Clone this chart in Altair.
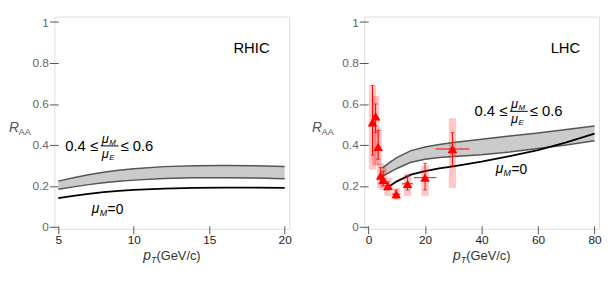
import altair as alt
import pandas as pd

FONT = "Liberation Sans"

# ---------------- data ----------------
rhic_pt = [5, 6, 7, 8, 9, 10, 12, 14, 16, 18, 20]
rhic_band_hi = [0.223, 0.240, 0.254, 0.266, 0.276, 0.284, 0.294, 0.298, 0.299, 0.298, 0.295]
rhic_band_lo = [0.183, 0.195, 0.206, 0.215, 0.222, 0.228, 0.236, 0.240, 0.240, 0.238, 0.235]
rhic_mu0 = [0.140, 0.151, 0.161, 0.169, 0.175, 0.180, 0.186, 0.190, 0.191, 0.191, 0.190]

lhc_pt = [5, 7, 10, 15, 20, 25, 30, 40, 50, 60, 70, 80]
lhc_band_hi = [0.288, 0.310, 0.338, 0.372, 0.390, 0.402, 0.412, 0.428, 0.443, 0.458, 0.475, 0.492]
lhc_band_lo = [0.248, 0.262, 0.285, 0.315, 0.330, 0.338, 0.343, 0.352, 0.365, 0.382, 0.400, 0.420]
lhc_mu0_pt = [5.5, 7, 10, 15, 20, 25, 30, 40, 50, 60, 70, 80]
lhc_mu0 = [0.180, 0.195, 0.222, 0.255, 0.272, 0.285, 0.295, 0.318, 0.345, 0.375, 0.412, 0.455]

data_pt = [1.4, 2.5, 3.4, 4.3, 5.2, 6.9, 9.8, 13.8, 20.0, 29.7]
data_raa = [0.51, 0.54, 0.39, 0.25, 0.23, 0.20, 0.16, 0.21, 0.24, 0.38]
data_stat_lo = [0.35, 0.46, 0.33, 0.21, 0.20, 0.18, 0.14, 0.18, 0.18, 0.30]
data_stat_hi = [0.69, 0.60, 0.47, 0.29, 0.27, 0.22, 0.18, 0.25, 0.31, 0.46]
data_sys_lo = [0.28, 0.30, 0.30, 0.19, 0.18, 0.15, 0.13, 0.15, 0.15, 0.19]
data_sys_hi = [0.69, 0.64, 0.48, 0.31, 0.29, 0.24, 0.19, 0.26, 0.30, 0.53]
data_pt_err = [0.5, 0.5, 0.5, 0.5, 0.5, 1.0, 1.5, 2.0, 4.0, 6.0]
data_box_hw = [1.3] * 10

y_ticks = [0, 0.2, 0.4, 0.6, 0.8, 1]
rhic_x_ticks = [5, 10, 15, 20]
lhc_x_ticks = [0, 20, 40, 60, 80]

W, H = 238, 215
Y_DOM = [-0.0096, 1.0265]

RED = "#ff0000"
BAND_FILL = "#cbcbcb"
BAND_EDGE = "#555555"


def make_panel(xdom, xticks, bx, bhi, blo, mx, my, name, name_xy, frac_xy, mu_xy, with_data):
    xsc = alt.Scale(domain=xdom, nice=False, zero=False)
    ysc = alt.Scale(domain=Y_DOM, nice=False, zero=False)
    xax = alt.Axis(values=xticks, title=None, domain=False, grid=False, offset=-3,
                   tickSize=8, tickColor="#555", labelColor="#222", labelFontSize=12,
                   labelFont=FONT, labelPadding=1, format="d")
    yax = alt.Axis(values=y_ticks, title=None, domain=False, grid=False, offset=-4,
                   tickSize=9, tickColor="#555", labelColor="#666", labelFontSize=12,
                   labelFont=FONT, labelPadding=1, format=".1~f")
    kx = W / (xdom[1] - xdom[0])

    def X(f):
        return alt.X(f, scale=xsc, axis=xax)

    def Y(f):
        return alt.Y(f, scale=ysc, axis=yax)

    def tx(x, y, text, size, dx=0, dy=0, italic=False, align="left", baseline="alphabetic"):
        return alt.Chart(pd.DataFrame({"x": [x], "y": [y]})).mark_text(
            text=text, fontSize=size, font=FONT, fontStyle="italic" if italic else "normal",
            align=align, baseline=baseline, dx=dx, dy=dy, color="black"
        ).encode(x=X("x:Q"), y=Y("y:Q"))

    def ptx(px, py, text, size, italic=False, color="#333"):
        return alt.Chart(pd.DataFrame({"a": [0]})).mark_text(
            text=text, fontSize=size, font=FONT, fontStyle="italic" if italic else "normal",
            align="left", baseline="alphabetic", color=color
        ).encode(x=alt.value(px), y=alt.value(py))

    band = pd.DataFrame({"x": bx, "hi": bhi, "lo": blo})
    mu0 = pd.DataFrame({"x": mx, "y": my})

    layers = [
        alt.Chart(band).mark_area(color=BAND_FILL, opacity=1).encode(x=X("x:Q"), y=Y("hi:Q"), y2="lo:Q"),
        alt.Chart(band).mark_line(color=BAND_EDGE, strokeWidth=1.5).encode(x=X("x:Q"), y=Y("hi:Q")),
        alt.Chart(band).mark_line(color=BAND_EDGE, strokeWidth=1.5).encode(x=X("x:Q"), y=Y("lo:Q")),
        alt.Chart(mu0).mark_line(color="black", strokeWidth=1.8).encode(x=X("x:Q"), y=Y("y:Q")),
    ]

    if with_data:
        d = pd.DataFrame({
            "x": data_pt, "y": data_raa,
            "slo": data_stat_lo, "shi": data_stat_hi,
            "ylo": data_sys_lo, "yhi": data_sys_hi,
            "xlo": [a - b for a, b in zip(data_pt, data_pt_err)],
            "xhi": [a + b for a, b in zip(data_pt, data_pt_err)],
            "blo": [a - b for a, b in zip(data_pt, data_box_hw)],
            "bhi": [a + b for a, b in zip(data_pt, data_box_hw)],
        })
        layers += [
            alt.Chart(d).mark_rect(color=RED, opacity=0.22).encode(x=X("blo:Q"), x2="bhi:Q", y=Y("ylo:Q"), y2="yhi:Q"),
            alt.Chart(d).mark_rule(color=RED, strokeWidth=1).encode(x=X("x:Q"), y=Y("slo:Q"), y2="shi:Q"),
            alt.Chart(d).mark_rule(color=RED, strokeWidth=1).encode(x=X("xlo:Q"), x2="xhi:Q", y=Y("y:Q")),
            alt.Chart(d).mark_tick(color=RED, orient="horizontal", size=4, thickness=1).encode(x=X("x:Q"), y=Y("slo:Q")),
            alt.Chart(d).mark_tick(color=RED, orient="horizontal", size=4, thickness=1).encode(x=X("x:Q"), y=Y("shi:Q")),
            alt.Chart(d).mark_point(shape="triangle-up", filled=True, size=95, color=RED, opacity=1).encode(x=X("x:Q"), y=Y("y:Q")),
        ]

    # experiment label
    layers.append(tx(name_xy[0], name_xy[1], name, 15, align="center", baseline="middle"))
    # fraction label
    fx, fy = frac_xy
    layers += [
        tx(fx, fy, "0.4 \u2264", 15, baseline="middle"),
        tx(fx, fy, "\u03bc", 13, dx=37, dy=-3, italic=True),
        tx(fx, fy, "M", 8, dx=44.5, dy=-1, italic=True),
        tx(fx, fy, "\u03bc", 13, dx=37, dy=12, italic=True),
        tx(fx, fy, "E", 8, dx=44.5, dy=14, italic=True),
        tx(fx, fy, "\u2264 0.6", 15, dx=56, baseline="middle"),
        alt.Chart(pd.DataFrame({"x": [fx + 36 / kx], "x2": [fx + 54 / kx], "y": [fy]}))
        .mark_rule(color="black", strokeWidth=1).encode(x=X("x:Q"), x2="x2:Q", y=Y("y:Q")),
    ]
    # mu_M = 0 label
    mx0, my0 = mu_xy
    layers += [
        tx(mx0, my0, "\u03bc", 14, dx=0, dy=4, italic=True),
        tx(mx0, my0, "M", 9, dx=8, dy=7, italic=True),
        tx(mx0, my0, "=0", 14, dx=16, dy=5),
    ]
    return layers, ptx


# left panel
lay_l, ptx_l = make_panel([4.74, 20.30], rhic_x_ticks, rhic_pt, rhic_band_hi, rhic_band_lo,
                          rhic_pt, rhic_mu0, "RHIC", (17.8, 0.875), (5.46, 0.395), (7.22, 0.087), False)
lay_l += [
    ptx_l(-46, 117, "R", 14, italic=True, color="#555"),
    ptx_l(-36, 120, "AA", 9, color="#555"),
    ptx_l(90, 247, "p", 14, italic=True),
    ptx_l(97.8, 250, "T", 9, italic=True),
    ptx_l(103.5, 247, "(GeV/c)", 13),
]
left = alt.layer(*lay_l).properties(width=W, height=H)

# right panel
lay_r, ptx_r = make_panel([-1.54, 81.6], lhc_x_ticks, lhc_pt, lhc_band_hi, lhc_band_lo,
                          lhc_mu0_pt, lhc_mu0, "LHC", (69.7, 0.875), (37.5, 0.564), (45.0, 0.28), True)
lay_r += [
    ptx_r(-53, 117, "R", 14, italic=True, color="#555"),
    ptx_r(-43, 120, "AA", 9, color="#555"),
    ptx_r(90, 247, "p", 14, italic=True),
    ptx_r(97.8, 250, "T", 9, italic=True),
    ptx_r(103.5, 247, "(GeV/c)", 13),
]
right = alt.layer(*lay_r).properties(width=W, height=H)

chart = alt.hconcat(left, right, spacing=76, bounds="flush").properties(
    padding={"left": 0, "top": 5, "right": 0, "bottom": 0}
).configure_view(stroke="#808080", strokeWidth=1).configure(background="white")

chart.save("out.html", embed_options={"renderer": "svg", "actions": False})
